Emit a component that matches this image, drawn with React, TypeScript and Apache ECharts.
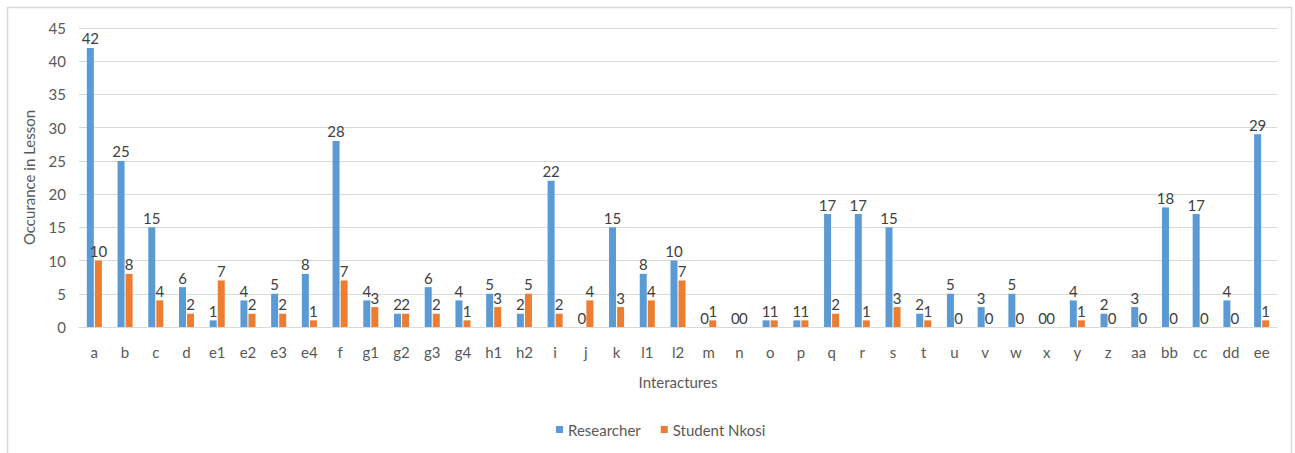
import React, { useEffect, useRef } from "react";
import * as echarts from "echarts";

const categories = [
  "a", "b", "c", "d", "e1", "e2", "e3", "e4", "f", "g1", "g2", "g3", "g4",
  "h1", "h2", "i", "j", "k", "l1", "l2", "m", "n", "o", "p", "q", "r", "s",
  "t", "u", "v", "w", "x", "y", "z", "aa", "bb", "cc", "dd", "ee",
];

const researcher = [
  42, 25, 15, 6, 1, 4, 5, 8, 28, 4, 2, 6, 4,
  5, 2, 22, 0, 15, 8, 10, 0, 0, 1, 1, 17, 17, 15,
  2, 5, 3, 5, 0, 4, 2, 3, 18, 17, 4, 29,
];

const studentNkosi = [
  10, 8, 4, 2, 7, 2, 2, 1, 7, 3, 2, 2, 1,
  3, 5, 2, 4, 3, 4, 7, 1, 0, 1, 1, 2, 1, 3,
  1, 0, 0, 0, 0, 1, 0, 0, 0, 0, 0, 1,
];

const FONT = "Lato, 'Open Sans', sans-serif";

export default function App() {
  const ref = useRef<HTMLDivElement>(null);

  useEffect(() => {
    if (!ref.current) return;
    const chart = echarts.init(ref.current, null, { renderer: "svg" });

    const label = {
      show: true,
      position: "top" as const,
      distance: 2,
      color: "#404040",
      fontSize: 15,
      fontFamily: FONT,
    };

    chart.setOption({
      animation: false,
      backgroundColor: "#ffffff",
      textStyle: { fontFamily: FONT },
      graphic: [
        {
          type: "rect",
          shape: { x: 7.5, y: 7.5, width: 1284, height: 470 },
          style: { fill: "none", stroke: "#d9d9d9", lineWidth: 1.5 },
          silent: true,
          z: -10,
        },
      ],
      grid: { left: 79, right: 18, top: 28, bottom: 126 },
      legend: {
        bottom: 11,
        left: 551,
        itemWidth: 7,
        itemHeight: 7,
        itemGap: 20,
        icon: "rect",
        textStyle: { color: "#595959", fontSize: 15, fontFamily: FONT },
        data: ["Researcher", "Student Nkosi"],
      },
      xAxis: {
        type: "category",
        data: categories,
        name: "Interactures",
        nameLocation: "middle",
        nameGap: 47,
        nameTextStyle: { color: "#595959", fontSize: 15, fontFamily: FONT },
        axisLine: { lineStyle: { color: "#d9d9d9" } },
        axisTick: { show: false },
        axisLabel: { color: "#595959", fontSize: 15, margin: 17, interval: 0, fontFamily: FONT },
      },
      yAxis: {
        type: "value",
        min: 0,
        max: 45,
        interval: 5,
        name: "Occurance in Lesson",
        nameLocation: "middle",
        nameGap: 43,
        nameTextStyle: { color: "#595959", fontSize: 15, fontFamily: FONT },
        axisLine: { show: false },
        axisTick: { show: false },
        axisLabel: { color: "#595959", fontSize: 15, margin: 13, fontFamily: FONT },
        splitLine: { lineStyle: { color: "#d9d9d9" } },
      },
      series: [
        {
          name: "Researcher",
          type: "bar",
          data: researcher,
          barWidth: 7,
          barGap: "15%",
          itemStyle: { color: "#5b9bd5" },
          label,
        },
        {
          name: "Student Nkosi",
          type: "bar",
          data: studentNkosi,
          barWidth: 7,
          itemStyle: { color: "#ed7d31" },
          label,
        },
      ],
    });

    return () => chart.dispose();
  }, []);

  return (
    <div
      ref={ref}
      style={{ position: "absolute", left: 0, top: 0, width: 1295, height: 453 }}
    />
  );
}
